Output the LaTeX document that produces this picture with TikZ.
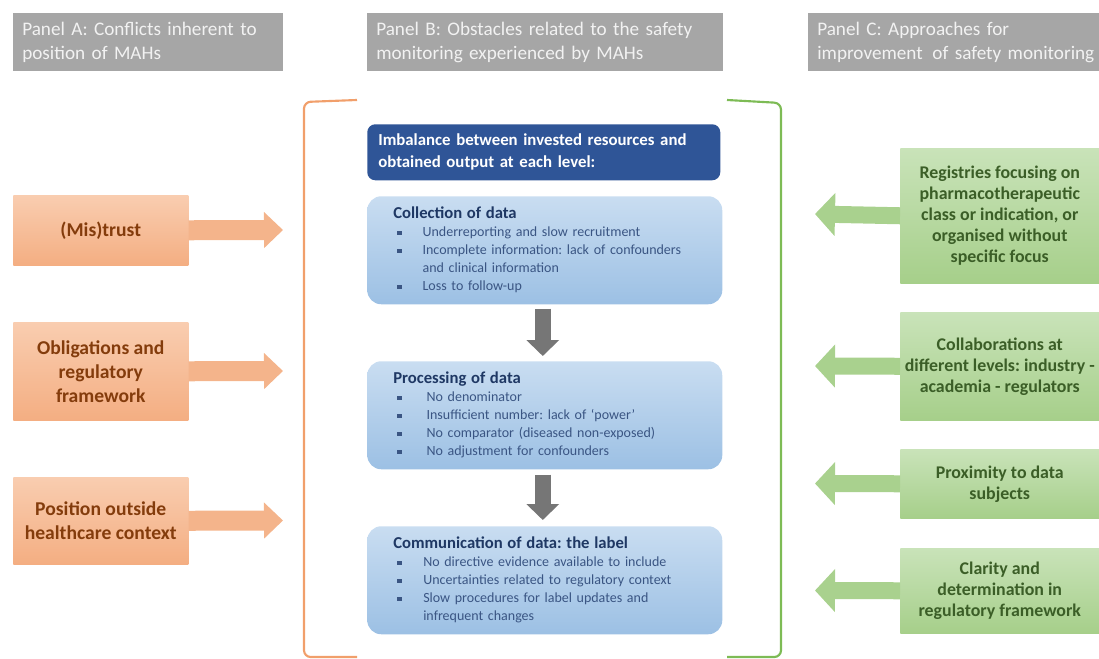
\documentclass[tikz,border=0pt]{standalone}
\usepackage{fontspec}
\setmainfont{Carlito}
\usetikzlibrary{arrows.meta,calc}
\frenchspacing

\definecolor{hdrgray}{HTML}{A6A6A6}
\definecolor{hdrtext}{HTML}{F2F2F2}
\definecolor{orgtop}{HTML}{F9CDB0}
\definecolor{orgbot}{HTML}{F4AE82}
\definecolor{orgtext}{HTML}{843C0C}
\definecolor{orgarrow}{HTML}{F4B48B}
\definecolor{orgline}{HTML}{F19F6B}
\definecolor{grntop}{HTML}{C9E3B9}
\definecolor{grnbot}{HTML}{A6CF8A}
\definecolor{grntext}{HTML}{3B5E27}
\definecolor{grnarrow}{HTML}{A9D18E}
\definecolor{grnline}{HTML}{7DBB55}
\definecolor{bluetop}{HTML}{C9DDF1}
\definecolor{bluebot}{HTML}{9CC0E4}
\definecolor{bluehead}{HTML}{2F5597}
\definecolor{bluetitle}{HTML}{1F3864}
\definecolor{bluebody}{HTML}{3A5583}
\definecolor{arrgray}{HTML}{767676}

% bullet item with hanging indent: #1 = text indent
\newcommand\bitem[2]{\par\noindent\hangindent=#1\hangafter=1\makebox[#1][l]{\hspace{3pt}\rule[0.3ex]{3.2pt}{3.2pt}}#2\par}

\begin{document}
\begin{tikzpicture}[x=0.75pt,y=-0.75pt,
  panelhdr/.style={fill=hdrgray, text=hdrtext, anchor=north west, align=left,
    font=\fontsize{14.4}{18}\selectfont, inner xsep=6.75pt, inner ysep=0pt, minimum height=43.5pt},
  orgbox/.style={top color=orgtop, bottom color=orgbot, text=orgtext, anchor=north west,
    align=center, font=\bfseries\fontsize{14.7}{18}\selectfont, inner sep=0pt, minimum width=131.25pt},
  grnbox/.style={top color=grntop, bottom color=grnbot, text=grntext, anchor=north west,
    align=center, font=\bfseries\fontsize{13.4}{15.75}\selectfont, inner sep=0pt, minimum width=149.25pt},
  bluebox/.style={top color=bluetop, bottom color=bluebot, rounded corners=10.5pt, anchor=north west,
    text=bluebody, align=left, font=\fontsize{10.5}{13.5}\selectfont, inner xsep=19.5pt, inner ysep=0pt,
    text width=227.25pt, minimum width=266.25pt, minimum height=81pt},
  orgarr/.style={draw=orgarrow, line width=15pt, -{Triangle[width=26.25pt,length=14.25pt]}},
  grnarr/.style={draw=grnarrow, line width=12.75pt, -{Triangle[width=31.5pt,length=15pt]}},
  grayarr/.style={draw=arrgray, line width=12pt, -{Triangle[width=24pt,length=12pt]}},
  bracket/.style={line width=1.6pt, rounded corners=5pt}
]
\useasboundingbox (0,0) rectangle (1099,659);

% panel headers
\node[panelhdr, text width=189pt] (hA) at (13,13) {Panel A: Conflicts inherent to\\position of MAHs};
\node[panelhdr, text width=253.5pt] (hB) at (367,13) {Panel B: Obstacles related to the safety\\monitoring experienced by MAHs};
\node[panelhdr, text width=215pt] (hC) at (808,13) {Panel C: Approaches for\\improvement\, of safety monitoring};

% brackets around panel B
\draw[bracket, draw=orgline] (357,100) -- (304,102) -- (304,657) -- (357,657);
\draw[bracket, draw=grnline] (727,100) -- (781,103) -- (781,657) -- (727,657);

% panel B content
\node[fill=bluehead, rounded corners=6pt, anchor=north west, text=white, align=left,
  font=\bfseries\fontsize{12.6}{16.5}\selectfont, inner xsep=8.25pt, inner ysep=0pt,
  text width=248.25pt, minimum height=42pt] (imb) at (367,124)
  {Imbalance between invested resources and\\obtained output at each level:};

\node[bluebox] (b1) at (367,196) {%
  {\color{bluetitle}\bfseries\fontsize{12.5}{14.25}\selectfont Collection of data\par}%
  \bitem{22pt}{Underreporting and slow recruitment}%
  \bitem{22pt}{Incomplete information: lack of confounders\newline and clinical information}%
  \bitem{22pt}{Loss to follow-up}};

\node[bluebox] (b2) at (367,361) {%
  {\color{bluetitle}\bfseries\fontsize{12.5}{14.25}\selectfont Processing of data\par}%
  \bitem{25pt}{No denominator}%
  \bitem{25pt}{Insufficient number: lack of `power'}%
  \bitem{25pt}{No comparator (diseased non-exposed)}%
  \bitem{25pt}{No adjustment for confounders}};

\node[bluebox] (b3) at (367,526) {%
  {\color{bluetitle}\bfseries\fontsize{12.5}{14.25}\selectfont Communication of data: the label\par}%
  \bitem{22.5pt}{No directive evidence available to include}%
  \bitem{22.5pt}{Uncertainties related to regulatory context}%
  \bitem{22.5pt}{Slow procedures for label updates and\newline infrequent changes}};

\draw[grayarr] ($(b1.south)+(-2,4)$) -- ($(b2.north)+(-2,-5)$);
\draw[grayarr] ($(b2.south)+(-2,5)$) -- ($(b3.north)+(-2,-6)$);

% panel A boxes
\node[orgbox, minimum height=52.5pt] (o1) at (13,195) {(Mis)trust};
\node[orgbox, minimum height=73.5pt] (o2) at (13,322) {Obligations and\\regulatory\\framework};
\node[orgbox, minimum height=65.25pt] (o3) at (13,477) {Position outside\\healthcare context};

\coordinate (ot1) at (283,230);
\coordinate (ot2) at (283,371);
\coordinate (ot3) at (283,520.5);
\draw[orgarr] (o1.east) -- (ot1);
\draw[orgarr] (o2.east) -- (ot2);
\draw[orgarr] (o3.east) -- (ot3);

% panel C boxes
\node[grnbox, minimum height=101.25pt] (g1) at (900,148) {Registries focusing on\\pharmacotherapeutic\\class or indication, or\\organised without\\specific focus};
\node[grnbox, minimum height=81pt] (g2) at (900,312) {Collaborations at\\different levels: industry -\\academia - regulators};
\node[grnbox, minimum height=51.75pt] (g3) at (900,449) {Proximity to data\\subjects};
\node[grnbox, minimum height=63.75pt] (g4) at (900,548) {Clarity and\\determination in\\regulatory framework};

\coordinate (gt1) at (815,214);
\coordinate (gt2) at (815,366);
\coordinate (gt3) at (815,483.5);
\coordinate (gt4) at (815,590.5);
\draw[grnarr] (g1.west) -- (gt1);
\draw[grnarr] (g2.west) -- (gt2);
\draw[grnarr] (g3.west) -- (gt3);
\draw[grnarr] (g4.west) -- (gt4);
\end{tikzpicture}
\end{document}
